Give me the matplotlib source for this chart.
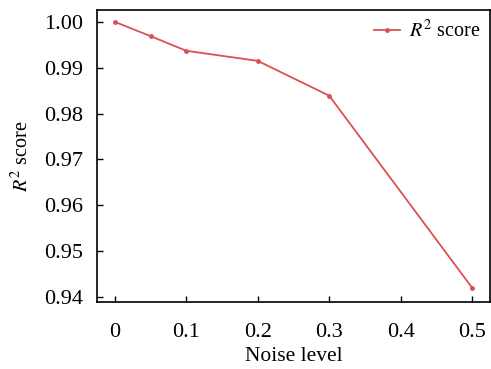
import matplotlib
matplotlib.use('Agg')
from matplotlib import pyplot as plt

# 噪声水平与 R2 得分
noise = [0, 0.05, 0.1, 0.2, 0.3, 0.5]
r2 = [1.000, 0.9969, 0.9937, 0.9915, 0.9839, 0.9420]
xticks = [0, 0.1, 0.2, 0.3, 0.4, 0.5]
xtick_labels = ['0', '0.1', '0.2', '0.3', '0.4', '0.5']
yticks = [0.94, 0.95, 0.96, 0.97, 0.98, 0.99, 1.00]

plt.rcParams['font.family'] = ['Liberation Serif', 'DejaVu Serif']
plt.rcParams['mathtext.fontset'] = 'stix'

fig = plt.figure(figsize=(4.91, 3.69), dpi=100)
ax = fig.add_axes([97 / 491, 67 / 369, 393 / 491, 292 / 369])

ax.plot(noise, r2, color='#dc5054', linewidth=1.3, marker='o', markersize=2.5,
        label='$R^2$ score')

ax.set_xlim(-0.025, 0.525)
ax.set_ylim(0.9389, 1.0026)
ax.set_xticks(xticks)
ax.set_xticklabels(xtick_labels)
ax.set_yticks(yticks)
ax.set_yticklabels(['%.2f' % v for v in yticks])
ax.tick_params(axis='both', direction='in', labelsize=16, length=4, width=1)
ax.tick_params(axis='x', pad=15)
ax.tick_params(axis='y', pad=10)
for s in ax.spines.values():
    s.set_linewidth(1.2)

ax.set_xlabel('Noise level', fontsize=15.5, labelpad=4)
ax.set_ylabel('$R^2$ score', fontsize=14.5, labelpad=8)
ax.legend(loc='upper right', frameon=False, fontsize=14.5, handlelength=1.3,
          borderaxespad=0.1, handletextpad=0.4)

fig.savefig('out.png', dpi=100)
